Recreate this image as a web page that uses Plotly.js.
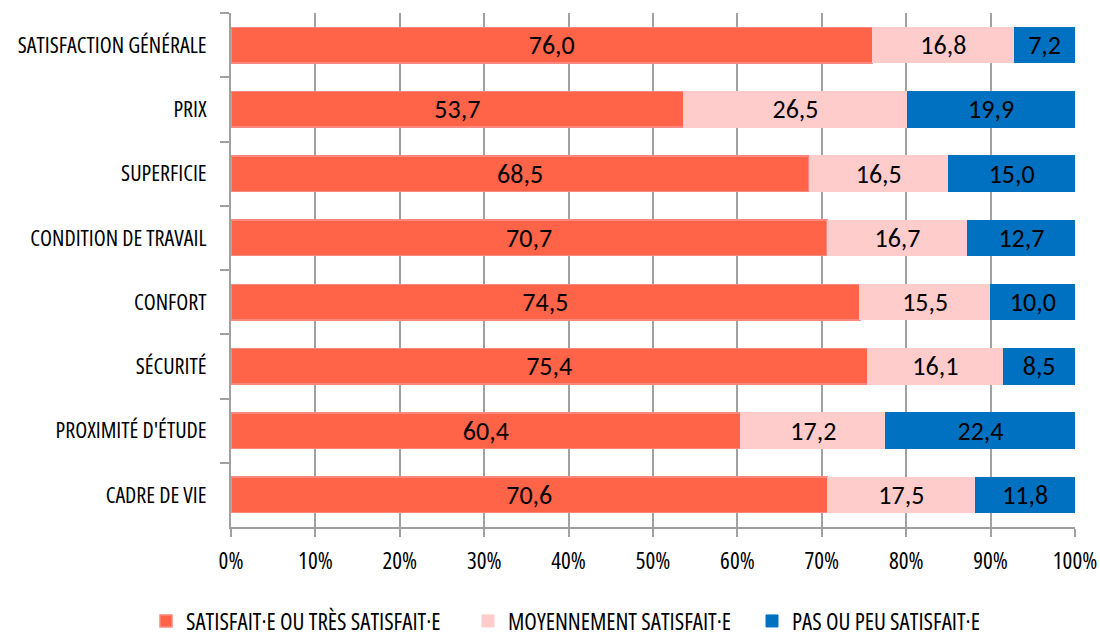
<!DOCTYPE html>
<html>
<head>
<meta charset="utf-8">
<script src="https://cdn.plot.ly/plotly-3.0.1.min.js"></script>
<style>
html,body{margin:0;padding:0;background:#fff;}
#chart{width:1100px;height:637px;}
svg text{font-stretch:condensed;}
</style>
</head>
<body>
<div id="chart"></div>
<script>
const categories = ['SATISFACTION GÉNÉRALE','PRIX','SUPERFICIE','CONDITION DE TRAVAIL','CONFORT','SÉCURITÉ',"PROXIMITÉ D'ÉTUDE",'CADRE DE VIE'];
const satisfait = [76.0,53.7,68.5,70.7,74.5,75.4,60.4,70.6];
const moyen = [16.8,26.5,16.5,16.7,15.5,16.1,17.2,17.5];
const pasPeu = [7.2,19.9,15.0,12.7,10.0,8.5,22.4,11.8];
const seriesNames = ['SATISFAIT·E OU TRÈS SATISFAIT·E','MOYENNEMENT SATISFAIT·E','PAS OU PEU SATISFAIT·E'];
const tickVals = [0,10,20,30,40,50,60,70,80,90,100];
const tickText = ['0%','10%','20%','30%','40%','50%','60%','70%','80%','90%','100%'];

const condensed = '"Open Sans", sans-serif';
const labelFont = 'Carlito, "Open Sans", sans-serif';
const fmt = v => v.toFixed(1).replace('.', ',');

function mk(vals, name, color, line, legendId) {
  return {
    type: 'bar', orientation: 'h',
    y: categories, x: vals, name: name, legend: legendId,
    text: vals.map(fmt), texttemplate: '%{text}',
    textposition: 'inside', insidetextanchor: 'middle', textangle: 0,
    constraintext: 'none',
    textfont: {family: labelFont, size: 26, color: '#000'},
    marker: {color: color, line: line},
    hoverinfo: 'skip'
  };
}

const data = [
  mk(satisfait, seriesNames[0], 'rgb(255,99,72)', {color: 'rgb(255,135,125)', width: 1.5}, 'legend'),
  mk(moyen, seriesNames[1], 'rgb(255,204,204)', {color: 'rgb(255,204,204)', width: 1}, 'legend2'),
  mk(pasPeu, seriesNames[2], 'rgb(0,112,192)', {color: 'rgb(0,112,192)', width: 1}, 'legend3')
];

function leg(xpx) {
  return {
    orientation: 'h', xref: 'container', yref: 'container',
    x: xpx / 1100, xanchor: 'left', y: (637 - 621) / 637, yanchor: 'middle',
    font: {family: condensed, size: 23, color: '#000'},
    bgcolor: 'rgba(0,0,0,0)', borderwidth: 0
  };
}

const layout = {
  width: 1100, height: 637,
  margin: {l: 231, r: 25, t: 13, b: 110},
  barmode: 'stack', barnorm: 'percent', bargap: 0.45,
  paper_bgcolor: '#fff', plot_bgcolor: '#fff',
  showlegend: true,
  legend: leg(146),
  legend2: leg(468),
  legend3: leg(752),
  xaxis: {
    range: [0, 100], tickmode: 'array', tickvals: tickVals, ticktext: tickText,
    showgrid: true, gridcolor: '#a0a0a0', gridwidth: 2,
    showline: true, linecolor: '#a0a0a0', linewidth: 2,
    ticks: 'outside', ticklen: 8, tickwidth: 2, tickcolor: '#a0a0a0',
    ticklabelstandoff: 4,
    tickfont: {family: condensed, size: 23, color: '#000'},
    zeroline: false, fixedrange: true
  },
  yaxis: {
    type: 'category', autorange: 'reversed',
    showline: true, linecolor: '#a0a0a0', linewidth: 2,
    ticks: 'outside', tickson: 'boundaries', ticklen: 9, tickwidth: 2, tickcolor: '#a0a0a0',
    ticklabelstandoff: 18,
    showgrid: false, zeroline: false,
    tickfont: {family: condensed, size: 22, color: '#000'},
    fixedrange: true
  }
};

Plotly.newPlot('chart', data, layout, {displayModeBar: false, staticPlot: true});
</script>
</body>
</html>
